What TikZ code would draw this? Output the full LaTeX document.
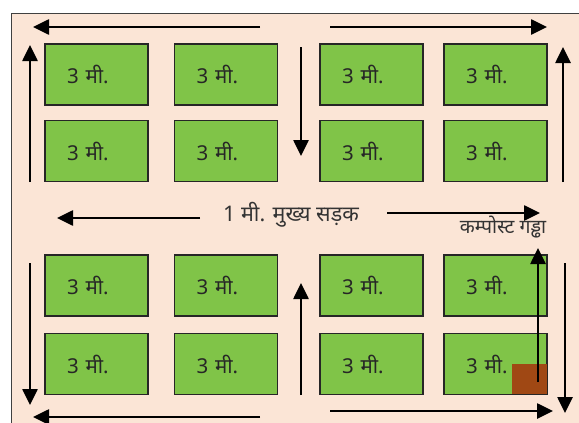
\documentclass[tikz,border=0pt]{standalone}
\usepackage{fontspec}
\newfontfamily\hindi[Script=Devanagari]{Noto Sans}
\usetikzlibrary{arrows.meta}
\definecolor{soil}{RGB}{251,229,214}
\definecolor{bedgreen}{RGB}{128,196,72}
\definecolor{pit}{RGB}{160,72,20}

\begin{document}
\begin{tikzpicture}[x=1pt,y=-1pt]
	% Styles
	\tikzset{bed/.style={draw=black!85, line width=1.2pt, fill=bedgreen, text width=59pt, inner xsep=22pt, inner ysep=0pt, align=left, minimum height=61pt, text=black!85, font=\hindi\fontsize{20.5}{24}\selectfont},
		walk/.style={line width=2.6pt, -{Triangle[length=16pt,width=15pt]}},
		roadlabel/.style={text=black!80, font=\hindi\fontsize{21.5}{25}\selectfont},
		pitlabel/.style={text=black!80, font=\hindi\fontsize{19.5}{23}\selectfont}}
	\useasboundingbox (0,0) rectangle (579,423);
	
	% Draw the field
	\fill[soil] (11,13) rectangle (579,423);
	\draw[black!75, line width=1pt] (579,13) -- (11,13) -- (11,423);
	
	% upper beds
	\node[bed] (b11) at (96.5,74.5) {3 मी.};
	\node[bed] (b12) at (226,74.5) {3 मी.};
	\node[bed] (b13) at (371.5,74.5) {3 मी.};
	\node[bed] (b14) at (495.5,74.5) {3 मी.};
	\node[bed] (b21) at (96.5,151) {3 मी.};
	\node[bed] (b22) at (226,151) {3 मी.};
	\node[bed] (b23) at (371.5,151) {3 मी.};
	\node[bed] (b24) at (495.5,151) {3 मी.};
	
	% lower beds
	\node[bed] (b31) at (96.5,285.5) {3 मी.};
	\node[bed] (b32) at (226,285.5) {3 मी.};
	\node[bed] (b33) at (371.5,285.5) {3 मी.};
	\node[bed] (b34) at (495.5,285.5) {3 मी.};
	\node[bed] (b41) at (96.5,364) {3 मी.};
	\node[bed] (b42) at (226,364) {3 मी.};
	\node[bed] (b43) at (371.5,364) {3 मी.};
	\node[bed] (b44) at (495.5,364) {3 मी.};
	
	% compost pit
	\fill[pit] (512,364) rectangle (547,394);
	
	% walks round the beds
	\draw[walk] (260,27) -- (33,27);
	\draw[walk] (330,27) -- (547,27);
	\draw[walk] (30,182) -- (30,45);
	\draw[walk] (301,47) -- (301,156);
	\draw[walk] (563,182) -- (563,47);
	\draw[walk] (200,218) -- (57,218);
	\draw[walk] (387,213) -- (540,213);
	\draw[walk] (538,382) -- (538,248);
	\draw[walk] (30,263) -- (30,405);
	\draw[walk] (301,395) -- (301,283);
	\draw[walk] (565,263) -- (565,413);
	\draw[walk] (260,417) -- (33,417);
	\draw[walk] (330,411) -- (553,411);
	
	\node[roadlabel] (road) at (291,215) {1 मी. मुख्य सड़क};
	\node[pitlabel] (pitname) at (503,227) {कम्पोस्ट गड्ढा};
\end{tikzpicture}
\end{document}
